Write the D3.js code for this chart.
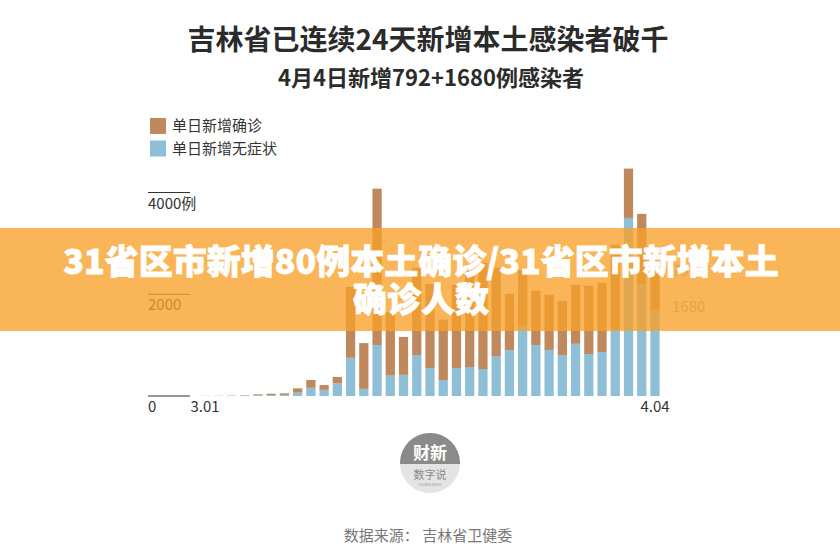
<!DOCTYPE html>
<html><head><meta charset="utf-8">
<script src="https://cdn.jsdelivr.net/npm/d3@7"></script>
<style>
html,body{margin:0;padding:0;background:#fff;}
svg{display:block;font-family:"Noto Sans CJK SC","Noto Sans",sans-serif;}
</style></head>
<body><svg id="chart" width="840" height="560"></svg>
<script>
const dates = ["3.01","3.02","3.03","3.04","3.05","3.06","3.07","3.08","3.09","3.10",
  "3.11","3.12","3.13","3.14","3.15","3.16","3.17","3.18","3.19","3.20",
  "3.21","3.22","3.23","3.24","3.25","3.26","3.27","3.28","3.29","3.30",
  "3.31","4.01","4.02","4.03","4.04"];
const confirmed = [2,3,5,8,20,25,30,85,155,95,
  125,1395,900,3075,1250,745,1715,1650,1185,1635,
  1910,2090,1735,1105,1100,1070,1085,1065,1160,1340,
  1360,1670,970,1380,792];
const asymptomatic = [1,2,3,7,13,20,23,65,160,120,
  250,750,140,1000,400,415,805,550,315,550,
  570,530,785,905,1380,1000,905,805,1025,825,
  865,1300,3500,2200,1680];
const yTicks = [0,2000,4000];
const tickLabels = ["0","2000","4000例"];
const legendLabels = ["单日新增确诊","单日新增无症状"];
const title = "吉林省已连续24天新增本土感染者破千";
const subtitle = "4月4日新增792+1680例感染者";
const bannerLines = ["31省区市新增80例本土确诊/31省区市新增本土","确诊人数"];
const source = "数据来源：  吉林省卫健委";

const colConf = "#c0895d", colAsym = "#8ebfd7";
const svg = d3.select("#chart");

const x = d3.scaleBand().domain(dates).range([198.4, 661.6]).paddingInner(0.3).paddingOuter(0.15);
const y = d3.scaleLinear().domain([0,4000]).range([396, 192.5]);

// titles
svg.append("text").attr("x",428).attr("y",50).attr("text-anchor","middle")
  .attr("font-size",28).attr("font-weight","bold").attr("fill","#2b2b2b").text(title);
svg.append("text").attr("x",431).attr("y",86).attr("text-anchor","middle")
  .attr("font-size",22).attr("font-weight","bold").attr("fill","#2b2b2b").text(subtitle);

// legend
const lg = svg.append("g");
[colConf,colAsym].forEach((c,i)=>{
  lg.append("rect").attr("x",150).attr("y",118+i*22.5).attr("width",16).attr("height",16).attr("fill",c);
  lg.append("text").attr("x",172).attr("y",131+i*22.5).attr("font-size",15).attr("fill","#333").text(legendLabels[i]);
});

// y ticks
yTicks.forEach((t,i)=>{
  svg.append("line").attr("x1",148).attr("x2",190).attr("y1",y(t)).attr("y2",y(t))
    .attr("stroke","#333").attr("stroke-width",1.2);
  svg.append("text").attr("x",148).attr("y",y(t)+16).attr("font-size",15).attr("fill","#333").text(tickLabels[i]);
});

// bars
const data = dates.map((d,i)=>({d, a:asymptomatic[i], c:confirmed[i]}));
const g = svg.append("g");
g.selectAll("rect.a").data(data).join("rect").attr("class","a")
  .attr("x",d=>x(d.d)).attr("width",x.bandwidth())
  .attr("y",d=>y(d.a)).attr("height",d=>y(0)-y(d.a)).attr("fill",colAsym);
g.selectAll("rect.c").data(data).join("rect").attr("class","c")
  .attr("x",d=>x(d.d)).attr("width",x.bandwidth())
  .attr("y",d=>y(d.a+d.c)).attr("height",d=>y(d.a)-y(d.a+d.c)).attr("fill",colConf);

// x labels
[dates[0], dates[dates.length-1]].forEach(d=>{
  svg.append("text").attr("x",x(d)+x.bandwidth()/2).attr("y",412).attr("text-anchor","middle")
    .attr("font-size",15).attr("fill","#333").text(d);
});

// right labels for last day
const last = data[data.length-1];
svg.append("text").attr("x",672).attr("y",y(last.a+last.c)+6).attr("font-size",15).attr("fill","#aaa").text(String(last.c));
svg.append("text").attr("x",672).attr("y",y(last.a)+1).attr("font-size",15).attr("fill","#aaa").text(String(last.a));

// logo
const lc = {x:430,y:463,r:30};
const logo = svg.append("g");
logo.append("clipPath").attr("id","lc").append("circle").attr("cx",lc.x).attr("cy",lc.y).attr("r",lc.r);
logo.append("circle").attr("cx",lc.x).attr("cy",lc.y).attr("r",lc.r).attr("fill","#e4e4e4");
logo.append("rect").attr("x",lc.x-lc.r).attr("y",lc.y-lc.r).attr("width",lc.r*2).attr("height",lc.r+1)
  .attr("fill","#8a8a8a").attr("clip-path","url(#lc)");
logo.append("text").attr("x",lc.x).attr("y",lc.y-4).attr("text-anchor","middle").attr("font-size",17)
  .attr("font-weight","bold").attr("fill","#fff").text("财新");
logo.append("text").attr("x",lc.x).attr("y",lc.y+16).attr("text-anchor","middle").attr("font-size",11)
  .attr("fill","#888").text("数字说");
logo.append("text").attr("x",lc.x).attr("y",lc.y+23).attr("text-anchor","middle").attr("font-size",4)
  .attr("fill","#999").text("CAIXIN DATA");

// source
svg.append("text").attr("x",428).attr("y",541).attr("text-anchor","middle").attr("font-size",15)
  .attr("fill","#777").text(source);

// banner overlay
svg.append("rect").attr("x",0).attr("y",228).attr("width",840).attr("height",103)
  .attr("fill","rgb(247,160,40)").attr("fill-opacity",0.78);
bannerLines.forEach((t,i)=>{
  svg.append("text").attr("x",421).attr("y",274+i*38).attr("text-anchor","middle")
    .attr("font-size",34).attr("font-weight","900").attr("fill","#fff")
    .attr("stroke","#fff").attr("stroke-width",0.8).text(t);
});
</script></body></html>
